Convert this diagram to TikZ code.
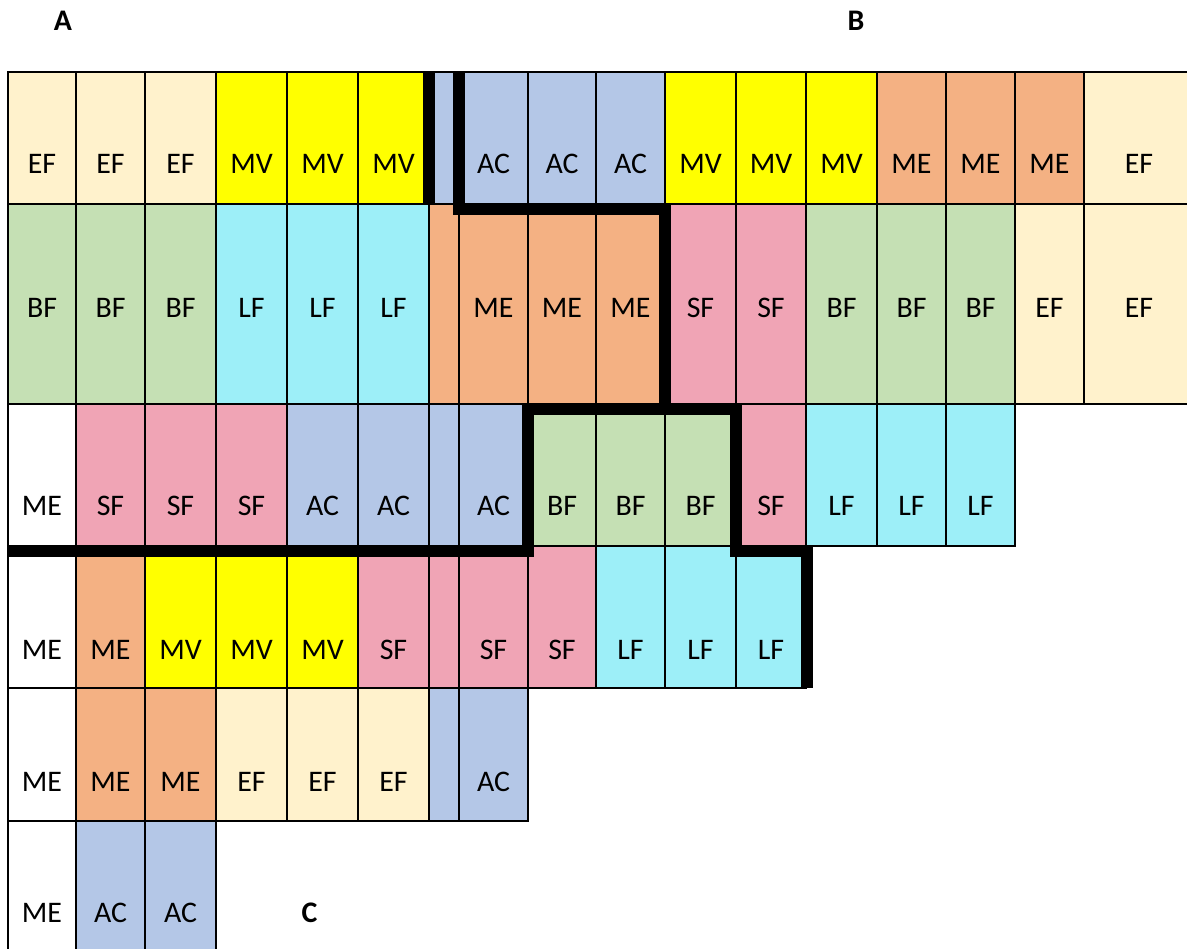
\documentclass[tikz,border=0pt]{standalone}
\usepackage{fontspec}
\setmainfont{Carlito}
\usepackage{xcolor}
\usepackage{tikz}
\definecolor{creamef}{RGB}{255,242,204}
\definecolor{yellowmv}{RGB}{255,255,0}
\definecolor{blueac}{RGB}{180,199,231}
\definecolor{orangeme}{RGB}{244,177,131}
\definecolor{greenbf}{RGB}{197,224,180}
\definecolor{cyanlf}{RGB}{157,239,248}
\definecolor{pinksf}{RGB}{240,164,181}

% top, bottom, baseline, row name, cells
\newcommand{\cellrow}[5]{%
  \foreach \xa/\xb/\kind/\txt [count=\i] in {#5} {
    \draw[\kind] (\xa,#1) rectangle (\xb,#2);
    \node (#4\i) at ({(\xa+\xb)/2},#3) {\txt};
  }}

\begin{document}
\begin{tikzpicture}[
    x=0.02cm, y=-0.02cm,
    every node/.style={font=\fontsize{17}{20}\selectfont, anchor=base, inner sep=0pt},
    cell/.style={draw=black, line width=1.1pt},
    EF/.style={cell, fill=creamef},
    MV/.style={cell, fill=yellowmv},
    AC/.style={cell, fill=blueac},
    ME/.style={cell, fill=orangeme},
    BF/.style={cell, fill=greenbf},
    LF/.style={cell, fill=cyanlf},
    SF/.style={cell, fill=pinksf},
    WH/.style={cell, fill=white},
    border/.style={line width=6.3pt},
    tag/.style={font=\fontsize{17}{20}\selectfont\bfseries}
]
\useasboundingbox (0,0) rectangle (1187,949);
\clip (0,0) rectangle (1187,949);

\cellrow{72}{204}{174}{ra}{8/76/EF/EF, 76/145/EF/EF, 145/216/EF/EF, 216/287/MV/MV, 287/358/MV/MV, 358/429/MV/MV,
  429/459/AC/{}, 459/528/AC/AC, 528/596/AC/AC, 596/665/AC/AC, 665/736/MV/MV, 736/806/MV/MV, 806/877/MV/MV,
  877/946/ME/ME, 946/1015/ME/ME, 1015/1084/ME/ME, 1084/1194/EF/EF}
\cellrow{204}{404}{318}{rb}{8/76/BF/BF, 76/145/BF/BF, 145/216/BF/BF, 216/287/LF/LF, 287/358/LF/LF, 358/429/LF/LF,
  429/459/ME/{}, 459/528/ME/ME, 528/596/ME/ME, 596/665/ME/ME, 665/736/SF/SF, 736/806/SF/SF, 806/877/BF/BF,
  877/946/BF/BF, 946/1015/BF/BF, 1015/1084/EF/EF, 1084/1194/EF/EF}
\cellrow{404}{546}{516}{rc}{8/76/WH/ME, 76/145/SF/SF, 145/216/SF/SF, 216/287/SF/SF, 287/358/AC/AC, 358/429/AC/AC,
  429/459/AC/{}, 459/528/AC/AC, 528/596/BF/BF, 596/665/BF/BF, 665/736/BF/BF, 736/806/SF/SF, 806/877/LF/LF,
  877/946/LF/LF, 946/1015/LF/LF}
\cellrow{546}{688}{659}{rd}{8/76/WH/ME, 76/145/ME/ME, 145/216/MV/MV, 216/287/MV/MV, 287/358/MV/MV, 358/429/SF/SF,
  429/459/SF/{}, 459/528/SF/SF, 528/596/SF/SF, 596/665/LF/LF, 665/736/LF/LF, 736/806/LF/LF}
\cellrow{688}{821}{791}{re}{8/76/WH/ME, 76/145/ME/ME, 145/216/ME/ME, 216/287/EF/EF, 287/358/EF/EF, 358/429/EF/EF,
  429/459/AC/{}, 459/528/AC/AC}
\cellrow{821}{960}{922}{rf}{8/76/WH/ME, 76/145/AC/AC, 145/216/AC/AC}

\draw[border] (429,72) -- (429,204);
\draw[border] (459,72) -- (459,209) -- (665,209) -- (665,409);
\draw[border] (8,551) -- (528,551) -- (528,409) -- (736,409) -- (736,551) -- (807,551) -- (807,688);

\node[tag] (tagA) at (63,30.5) {A};
\node[tag] (tagB) at (856,30.5) {B};
\node[tag] (tagC) at (309.5,922) {C};
\end{tikzpicture}
\end{document}
